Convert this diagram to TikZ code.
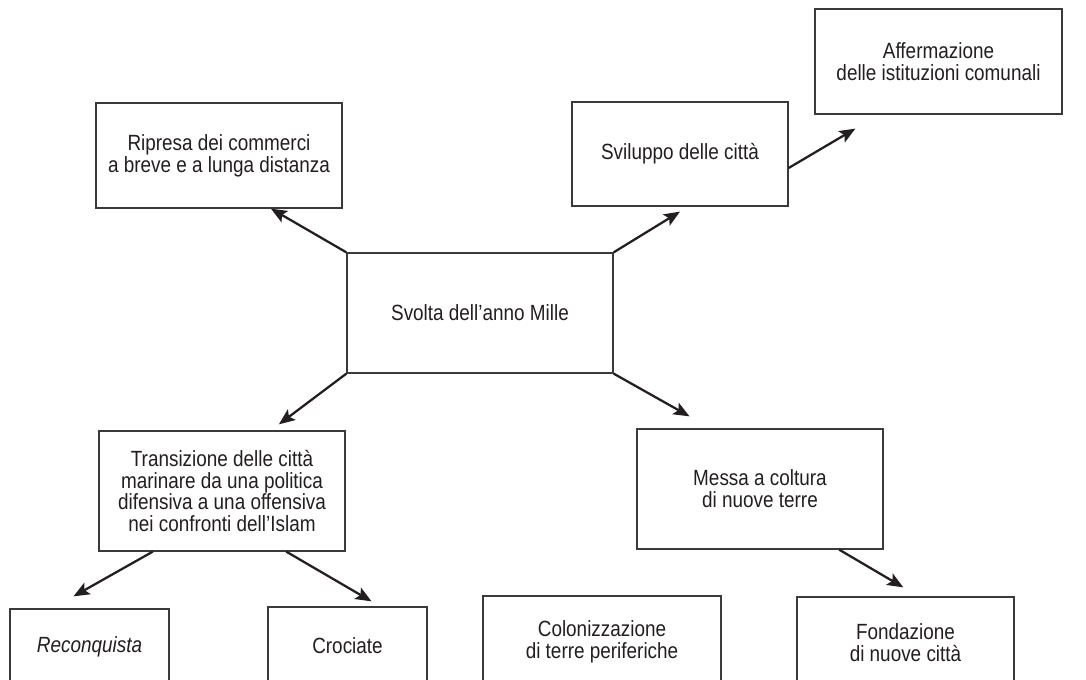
\documentclass[tikz,border=0pt]{standalone}
\usepackage{fontspec}
\setmainfont{Liberation Sans}[FakeStretch=0.86]
\usepackage{xcolor}
\usepackage{tikz}
\usetikzlibrary{arrows.meta, positioning, calc}
\definecolor{kink}{HTML}{231F20}
\definecolor{kline}{HTML}{3A3A3A}
\newlength{\pxu}
\setlength{\pxu}{0.75pt}
\tikzset{
  mapbox/.style={draw=kline, line width=0.95pt, inner sep=0pt, align=center,
    text=kink, font=\fontsize{16.5}{16.3}\selectfont},
  maparrow/.style={draw=kink, line width=1.7pt,
    -{Stealth[length=12pt, width=9.75pt, inset=2.5pt]}}
}

\begin{document}
\begin{tikzpicture}[x=0.75pt, y=-0.75pt]
\clip (0,0) rectangle (1086,680);
\fill[white] (0,0) rectangle (1086,680);
\node[mapbox, minimum width=266\pxu, minimum height=120\pxu] (centro) at (480,313) {Svolta dell’anno Mille};
\node[mapbox, minimum width=246\pxu, minimum height=105\pxu] (ripresa) at (219,155.5) {Ripresa dei commerci\\a breve e a lunga distanza};
\node[mapbox, minimum width=216\pxu, minimum height=104\pxu] (sviluppo) at (680,154) {Sviluppo delle città};
\node[mapbox, minimum width=247\pxu, minimum height=105\pxu] (affermazione) at (938.5,61.5) {Affermazione\\delle istituzioni comunali};
\node[mapbox, minimum width=246\pxu, minimum height=120\pxu] (transizione) at (222,491) {Transizione delle città\\marinare da una politica\\difensiva a una offensiva\\nei confronti dell’Islam};
\node[mapbox, minimum width=246\pxu, minimum height=120\pxu] (messa) at (760,489) {Messa a coltura\\di nuove terre};
\node[mapbox, minimum width=159\pxu, minimum height=76\pxu] (reconquista) at (89.5,647) {\itshape Reconquista};
\node[mapbox, minimum width=159\pxu, minimum height=78\pxu] (crociate) at (347.5,646) {Crociate};
\node[mapbox, minimum width=238\pxu, minimum height=92\pxu] (colonizzazione) at (602,642) {Colonizzazione\\di terre periferiche};
\node[mapbox, minimum width=217\pxu, minimum height=92\pxu] (fondazione) at (905.5,643) {Fondazione\\di nuove città};
\draw[maparrow] (centro.north west) -- ($(ripresa.south west)!0.71!(ripresa.south east)$);
\draw[maparrow] (centro.north east) -- ([yshift=-5\pxu]sviluppo.south);
\draw[maparrow] ([yshift=-14\pxu]sviluppo.east) -- ($(affermazione.south west)+(41,14)$);
\draw[maparrow] (centro.south west) -- ($(transizione.north west)!0.73!(transizione.north east)+(0,-6)$);
\draw[maparrow] (centro.south east) -- ($(messa.north west)!0.215!(messa.north east)+(0,-12)$);
\draw[maparrow] ($(transizione.south west)!0.22!(transizione.south east)$) -- ($(reconquista.north west)!0.4!(reconquista.north east)+(0,-12)$);
\draw[maparrow] ($(transizione.south west)!0.76!(transizione.south east)$) -- ($(crociate.north west)!0.65!(crociate.north east)+(0,-5)$);
\draw[maparrow] ($(messa.south west)!0.82!(messa.south east)$) -- ($(fondazione.north west)!0.49!(fondazione.north east)+(0,-9)$);
\end{tikzpicture}
\end{document}
